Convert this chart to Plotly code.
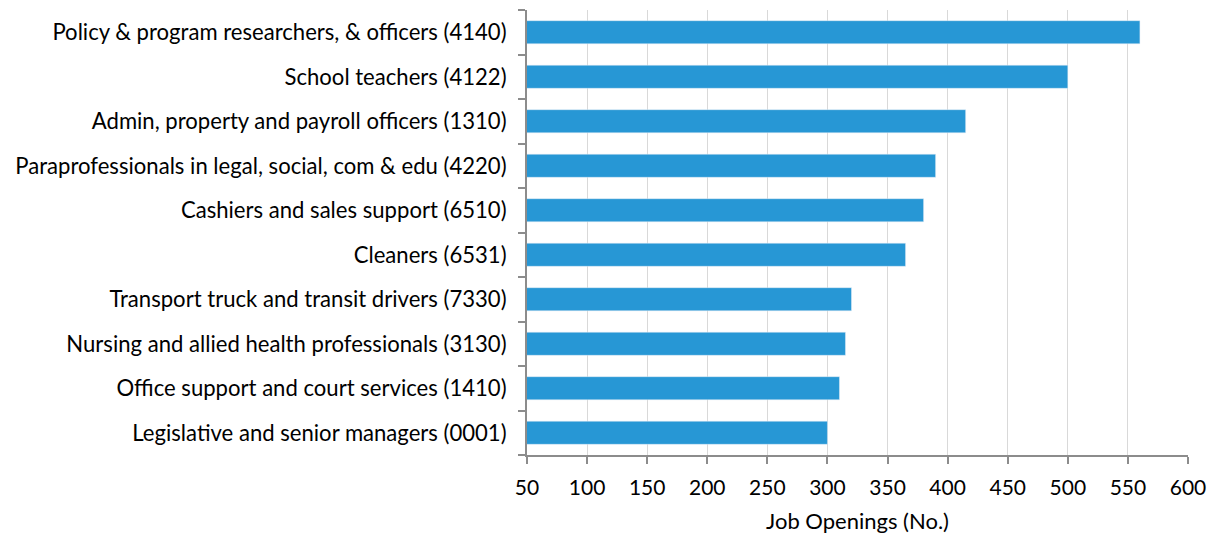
import plotly.graph_objects as go

categories = [
    "Policy & program researchers, & officers (4140)",
    "School teachers (4122)",
    "Admin, property and payroll officers (1310)",
    "Paraprofessionals in legal, social, com & edu (4220)",
    "Cashiers and sales support (6510)",
    "Cleaners (6531)",
    "Transport truck and transit drivers (7330)",
    "Nursing and allied health professionals (3130)",
    "Office support and court services (1410)",
    "Legislative and senior managers (0001)",
]
values = [560, 500, 415, 390, 380, 365, 320, 315, 310, 300]
x_ticks = [50, 100, 150, 200, 250, 300, 350, 400, 450, 500, 550, 600]

fig = go.Figure(go.Bar(
    y=categories, x=values, orientation="h",
    marker=dict(color="#2797d5"), width=0.52,
))
# page body has 8px margin, so figure is placed at (8, 8)
fig.update_layout(
    width=1207, height=528,
    margin=dict(l=519, r=27, t=2, b=81),
    paper_bgcolor="white", plot_bgcolor="white",
    font=dict(family="Lato, Open Sans, sans-serif", size=22, color="#000"),
    showlegend=False,
)
fig.update_xaxes(
    range=[50, 600], tickvals=x_ticks, showgrid=True, gridcolor="#d9d9d9", gridwidth=1,
    showline=True, linecolor="#8c8c8c", linewidth=2, ticks="outside", ticklen=7,
    tickcolor="#8c8c8c", tickwidth=2, zeroline=False,
    title=dict(text="Job Openings (No.)", font=dict(size=22), standoff=15),
    tickfont=dict(size=21), ticklabelstandoff=6,
)
fig.update_yaxes(
    categoryorder="array", categoryarray=categories[::-1], autorange=True,
    showline=True, linecolor="#8c8c8c", linewidth=2, ticks="outside", ticklen=7,
    tickcolor="#8c8c8c", tickwidth=2, tickson="boundaries", showgrid=False,
    tickfont=dict(size=22.1), ticklabelstandoff=14, automargin=False,
)
fig.write_html("out.html")
